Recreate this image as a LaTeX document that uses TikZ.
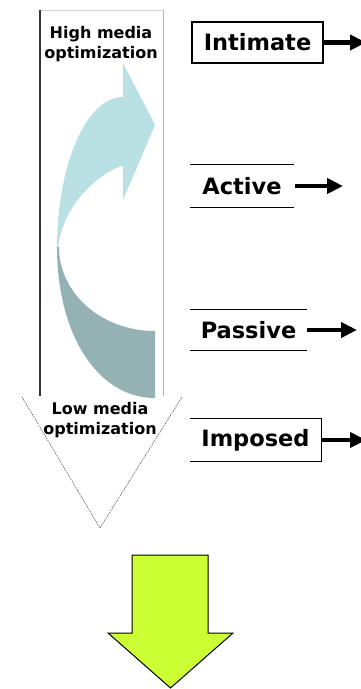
\documentclass[tikz,border=0pt]{standalone}
\usepackage{fontspec}
\setmainfont{DejaVu Sans}
\usetikzlibrary{arrows.meta}
\definecolor{lightteal}{HTML}{B9E0E2}
\definecolor{darkteal}{HTML}{94B2B4}
\definecolor{limegreen}{HTML}{CCFF33}
\tikzset{
  lbl/.style={font=\fontsize{22.5}{24}\selectfont\bfseries, inner sep=0pt, anchor=center},
  small/.style={font=\fontsize{16}{20.5}\selectfont\bfseries, align=center, inner sep=0pt},
  fat/.style={line width=4.5pt, -{Triangle[length=16pt,width=15pt]}},
  edge/.style={line width=1.1pt},
}
\begin{document}
\begin{tikzpicture}[x=1pt,y=-1pt]
\useasboundingbox (0,0) rectangle (360,689);
% vertical panel
\draw[gray!35, line width=0.8pt] (40,10) -- (163,10);
\draw[gray!60, line width=1pt] (163,10) -- (163,396);
\draw[black!80, line width=1.6pt] (40,10) -- (40,396);
% curved arrow, light part
\fill[lightteal] (57,249) .. controls (57,164) and (86.5,97) .. (123,97)
  -- (123,63) -- (155,125) -- (123,200) -- (123,166)
  .. controls (108,168) and (62,200) .. (58,249) -- cycle;
% dark part
\fill[darkteal] (57,247) .. controls (57,335) and (98,398) .. (155,398)
  -- (155,331) .. controls (101,331) and (59,293) .. (59,247) -- cycle;
% triangle
\draw[gray!70!black, line width=0.6pt, dash pattern=on 1.5pt off 1pt] (22,397) -- (100,528) -- (182,397);
% labels in panel
\node[small] (hi) at (101,44) {High media\\optimization};
\node[small] (lo) at (100,420) {Low media\\optimization};
% right labels
\node[lbl, draw, edge, minimum width=131pt, minimum height=41pt] (int) at (257.5,42.5) {Intimate};
\node[lbl, minimum width=104pt, minimum height=42pt] (act) at (242,186) {Active};
\draw[edge] (act.north west) -- (act.north east) (act.south west) -- (act.south east);
\node[lbl, minimum width=117pt, minimum height=41pt] (pas) at (248.5,330) {Passive};
\draw[edge] (pas.north west) -- (pas.north east) (pas.south west) -- (pas.south east);
\node[lbl, minimum width=131pt, minimum height=42pt] (imp) at (255.5,440) {Imposed};
\draw[edge] (imp.north west) -- (imp.north east) -- (imp.south east) -- (imp.south west);
% arrows
\coordinate (intE) at (366,42.5);
\coordinate (actE) at (343,186);
\coordinate (pasE) at (357,330);
\coordinate (impE) at (366,440);
\draw[fat] (int.east) -- (intE);
\draw[fat] ([xshift=1pt]act.east) -- (actE);
\draw[fat] (pas.east) -- (pasE);
\draw[fat] (imp.east) -- (impE);
% big arrow
\draw[fill=limegreen, line width=1pt, line join=miter] (132,555) -- (208,555) -- (208,633) -- (233,633) -- (170.5,688) -- (108,633) -- (132,633) -- cycle;
\end{tikzpicture}
\end{document}
